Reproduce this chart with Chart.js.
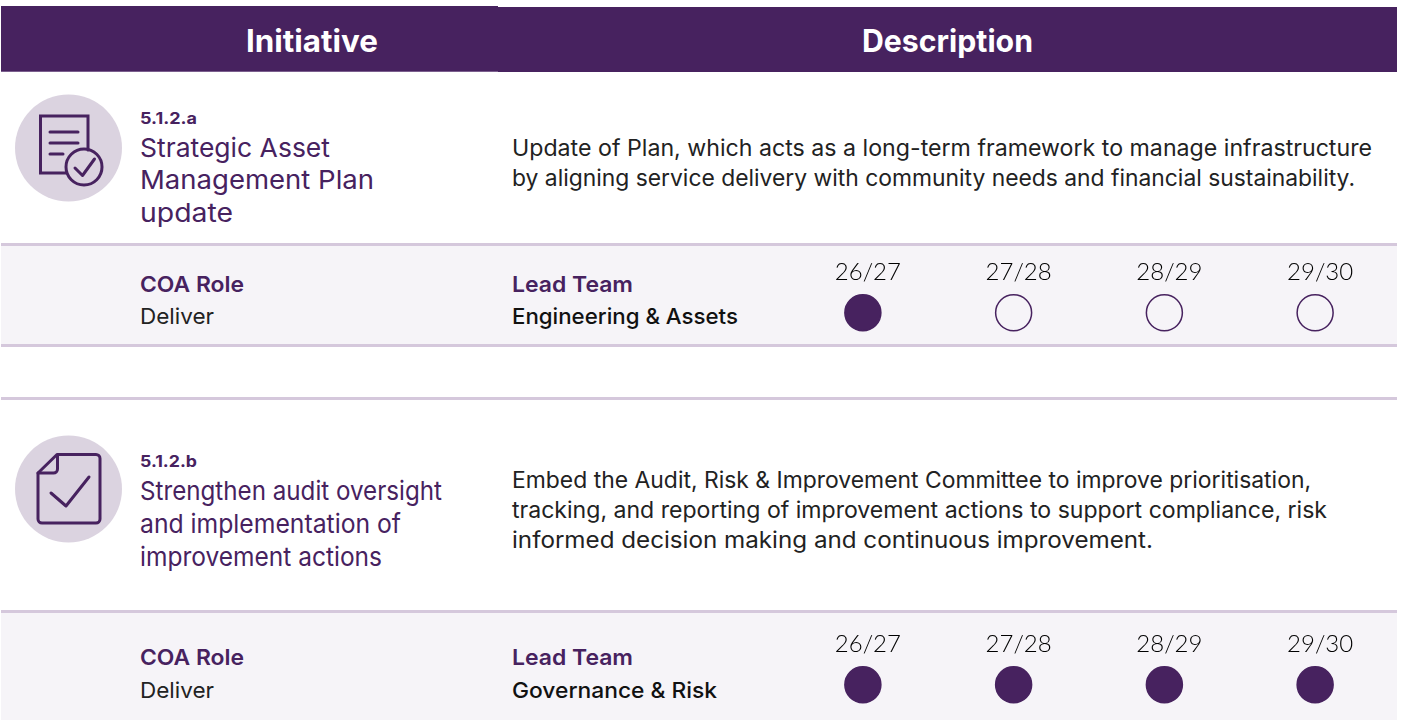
<!DOCTYPE html>
<html><head><meta charset="utf-8">
<script src="https://cdn.jsdelivr.net/npm/chart.js@4"></script>
<style>
html,body{margin:0;padding:0;background:#fff;width:1402px;height:720px;overflow:hidden}
#page{position:relative;width:1402px;height:720px;font-family:Inter,sans-serif}
.b{position:absolute}
.t{position:absolute;white-space:nowrap;line-height:1;transform-origin:0 50%;font-kerning:normal}
canvas{position:absolute;left:768px;width:642px;height:98px}
svg{position:absolute;left:0;top:0}
</style></head><body>
<div id="page">
<div class="b" style="left:1px;top:6px;width:497px;height:65px;background:#47225f;border-bottom:1px solid #7b5f8e"></div>
<div class="b" style="left:498px;top:7px;width:899px;height:65px;background:#47225f"></div>
<div class="b" style="left:1px;top:243px;width:1396px;height:102px;background:#f6f4f8"></div>
<div class="b" style="left:1px;top:610px;width:1396px;height:110px;background:#f6f4f8"></div>
<div class="b" style="left:1px;top:243px;width:1396px;height:3px;background:#d5c8dc"></div>
<div class="b" style="left:1px;top:344px;width:1396px;height:3px;background:#d5c8dc"></div>
<div class="b" style="left:1px;top:397px;width:1396px;height:3px;background:#d5c8dc"></div>
<div class="b" style="left:1px;top:610px;width:1396px;height:3px;background:#d5c8dc"></div>
<svg width="140" height="720" fill="none" stroke="#47225f" stroke-width="3" stroke-linejoin="round" stroke-linecap="round">
<circle cx="68.5" cy="148" r="53.5" fill="#dbd3e0" stroke="none"/>
<path d="M66 173H40.5V116H88V150" stroke-linejoin="miter"/>
<path d="M50 132H78M50 143H78M50 154H63"/>
<circle cx="84" cy="167" r="18"/>
<path d="M75 168L82.500 175.500L94.500 159"/>
<circle cx="68.500" cy="489" r="53.500" fill="#dbd3e0" stroke="none"/>
<path d="M57 454.500H96a4 4 0 0 1 4 4V519a4 4 0 0 1-4 4H42a4 4 0 0 1-4-4V473Z"/>
<path d="M57.500 455V469a4 4 0 0 1-4 4H38"/>
<path d="M51 493L66 506L89 477"/>
</svg>
</div>
<canvas id="rowA" width="642" height="98" style="top:247px"></canvas>
<canvas id="rowB" width="642" height="98" style="top:619px"></canvas>
<script>
const PURPLE = '#47225f';
const periods = ['26/27','27/28','28/29','29/30'];
const initiatives = ['5.1.2.a','5.1.2.b'];
const deliveryA = [1,0,0,0];
const deliveryB = [1,1,1,1];

const texts = [
 ['Initiative',246,40,132,'h'],['Description',862,40,171,'h'],
 ['5.1.2.a',140,118,57,'c'],
 ['Strategic Asset',140,148,190,'n'],['Management Plan',140,180,234,'n'],['update',140,213,93,'n'],
 ['Update of Plan, which acts as a long-term framework to manage infrastructure',512,148,860,'d'],
 ['by aligning service delivery with community needs and financial sustainability.',512,178,843,'d'],
 ['COA Role',140,284,104,'l'],['Deliver',140,316,74,'v'],
 ['Lead Team',512,284,121,'l'],['Engineering & Assets',512,316,226,'e'],
 ['5.1.2.b',140,461,57,'c'],
 ['Strengthen audit oversight',140,491,302,'n'],['and implementation of',140,524,261,'n'],['improvement actions',140,557,242,'n'],
 ['Embed the Audit, Risk & Improvement Committee to improve prioritisation,',512,480,799,'d'],
 ['tracking, and reporting of improvement actions to support compliance, risk',512,510,815,'d'],
 ['informed decision making and continuous improvement.',512,540,641,'d'],
 ['COA Role',140,657,104,'l'],['Deliver',140,690,74,'v'],
 ['Lead Team',512,657,121,'l'],['Governance & Risk',512,690,205,'e']
];
const styles = {
 h:{size:31,weight:700,color:'#fff'},
 c:{size:16,weight:700,color:PURPLE},
 n:{size:26,weight:400,color:PURPLE},
 d:{size:22.500,weight:400,color:'#222'},
 l:{size:22,weight:600,color:PURPLE},
 v:{size:22,weight:400,color:'#222'},
 e:{size:22,weight:500,color:'#111'}
};
const page = document.getElementById('page');
texts.forEach(([s,x,y,w,k])=>{
  const st = styles[k], el = document.createElement('div');
  el.className='t'; el.textContent=s;
  el.style.cssText=`left:${x}px;top:${y}px;font-size:${st.size}px;font-weight:${st.weight};color:${st.color}`;
  page.appendChild(el);
  const natural = el.getBoundingClientRect().width;
  el.style.transform = `translateY(-50%) scaleX(${(w/natural).toFixed(4)})`;
});

function row(id, name, values){
  new Chart(document.getElementById(id),{
    type:'scatter',
    data:{labels:periods,datasets:[{
      label:name,
      data:periods.map(p=>({x:p,y:name})),
      pointRadius:18,pointHoverRadius:18,
      borderWidth:1.5,borderColor:PURPLE,
      backgroundColor:c=>values[c.dataIndex]?PURPLE:'rgba(0,0,0,0)',
      clip:false
    }]},
    options:{
      responsive:false,animation:false,
      layout:{padding:{top:13,bottom:5,left:0,right:0}},
      plugins:{legend:{display:false},tooltip:{enabled:false}},
      scales:{
        x:{type:'category',position:'top',labels:periods,offset:true,
           grid:{display:false,drawTicks:false},border:{display:false},
           ticks:{color:'#000',padding:13,labelOffset:5,autoSkip:false,maxRotation:0,
                  font:{family:'Lato',size:24,weight:300}}},
        y:{type:'category',labels:[name],offset:true,display:false}
      }
    }
  });
}
row('rowA',initiatives[0],deliveryA);
row('rowB',initiatives[1],deliveryB);
</script>
</body></html>
